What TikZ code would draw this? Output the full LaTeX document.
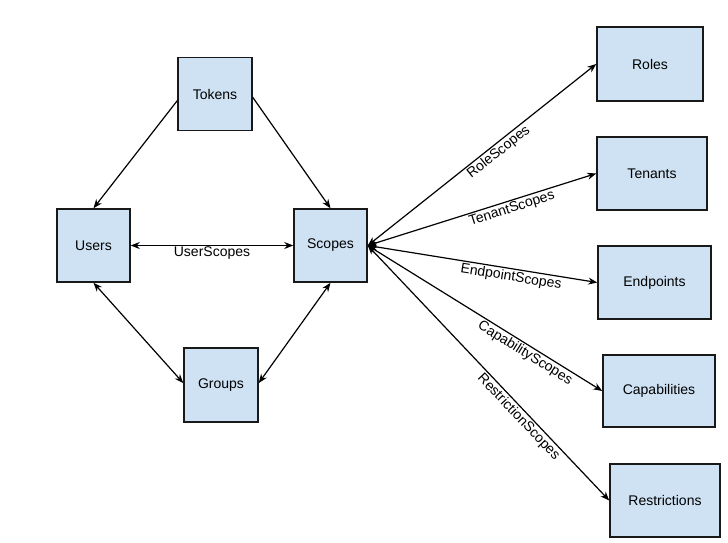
\documentclass[tikz,border=0pt]{standalone}
\usepackage{fontspec}
\setmainfont{Liberation Sans}
\usetikzlibrary{arrows.meta}
\definecolor{boxblue}{HTML}{CFE2F3}

\begin{document}
\begin{tikzpicture}[x=1pt, y=-1pt,
		entity/.style={draw=black!90, line width=1.5pt, fill=boxblue, minimum height=73pt, inner sep=0pt, font=\fontsize{14}{16}\selectfont},
		link/.style={line width=1.2pt, -{Stealth[length=9pt,width=7pt]}},
		twolink/.style={line width=1.2pt, {Stealth[length=9pt,width=7pt]}-{Stealth[length=9pt,width=7pt]}},
		lbl/.style={inner sep=1.5pt, font=\fontsize{14}{16}\selectfont}]
		% page
		\fill [white] (0,0) rectangle (728,542);
		\useasboundingbox (0,0) rectangle (728,542);

		% left group of boxes
		\node [entity, minimum width=74pt] (tokens) at (215,94) {Tokens};
		\node [entity, minimum width=73pt] (users) at (93.5,245.5) {Users};
		\node [entity, minimum width=73pt] (scopes) at (330.5,245.5) {Scopes};
		\node [entity, minimum width=74pt, minimum height=74pt] (groups) at (221,385) {Groups};

		% right column
		\node [entity, minimum width=106pt, minimum height=74pt] (roles) at (650,64) {Roles};
		\node [entity, minimum width=110pt] (tenants) at (652,173.5) {Tenants};
		\node [entity, minimum width=113pt] (endpoints) at (654.5,282.5) {Endpoints};
		\node [entity, minimum width=112pt, minimum height=72pt] (capabilities) at (659,391) {Capabilities};
		\node [entity, minimum width=110pt] (restrictions) at (665,500.5) {Restrictions};

		% tokens, users, groups and scopes
		\draw [link] (tokens.190) -- (users.north);
		\draw [link] (tokens.-5) -- (scopes.north);
		\draw [twolink] (users.east) -- (scopes.west) node [lbl, below, pos=0.5, inner sep=1pt] (luser) {UserScopes};
		\draw [twolink] (users.south) -- (groups.177);
		\draw [twolink] (groups.3) -- (scopes.south);

		% scopes fanning out to the right column
		\draw [twolink] (scopes.east) -- (roles.west) node [lbl, sloped, below, pos=0.55] (lrole) {RoleScopes};
		\draw [twolink] (scopes.east) -- (tenants.west) node [lbl, sloped, below, pos=0.62] (ltenant) {TenantScopes};
		\draw [twolink] (scopes.east) -- (endpoints.west) node [lbl, sloped, below, pos=0.63] (lendpoint) {EndpointScopes};
		\draw [twolink] (scopes.east) -- (capabilities.west) node [lbl, sloped, below, pos=0.69] (lcapability) {CapabilityScopes};
		\draw [twolink] (scopes.east) -- (restrictions.west) node [lbl, sloped, below, pos=0.65] (lrestriction) {RestrictionScopes};
	\end{tikzpicture}
\end{document}
